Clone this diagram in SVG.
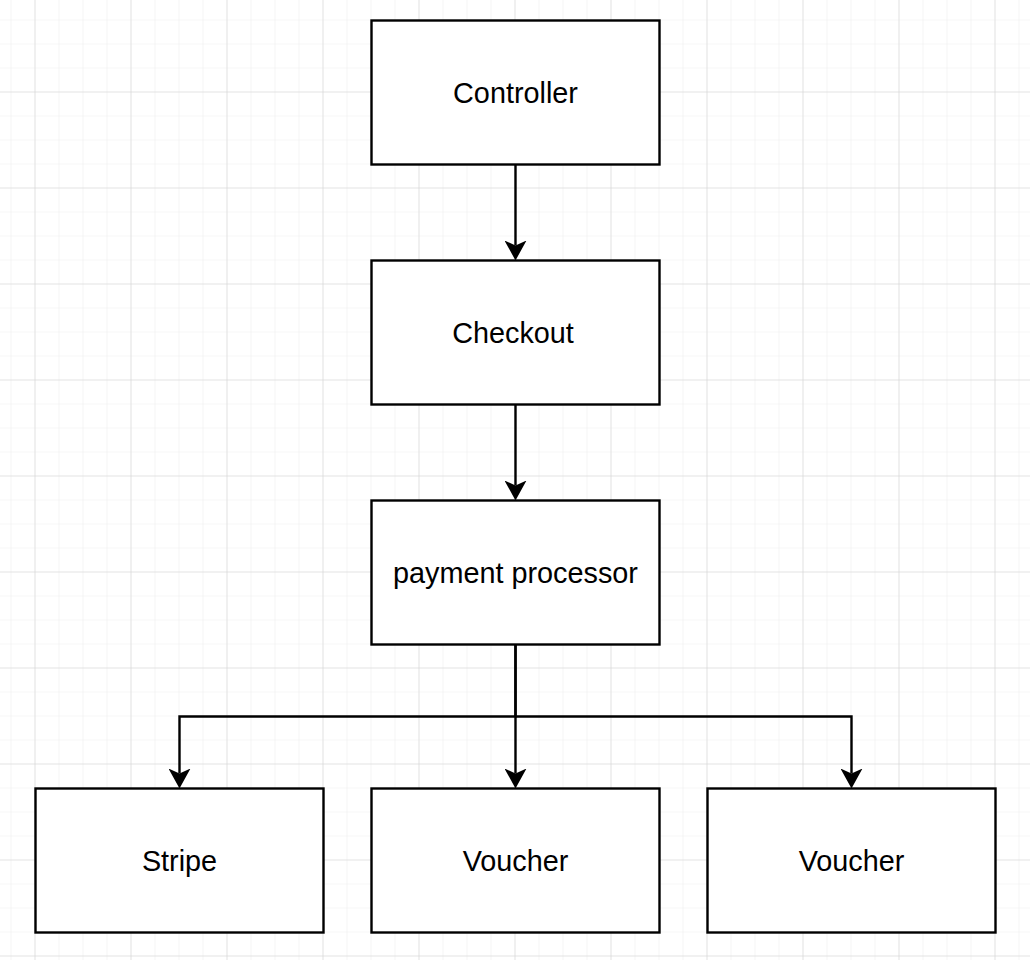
<svg xmlns="http://www.w3.org/2000/svg" width="1030" height="960" viewBox="0 0 1030 960">
<defs>
<pattern id="minor" x="10.5" y="19.5" width="24" height="24" patternUnits="userSpaceOnUse">
<path d="M0,0 V24 M0,0 H24" fill="none" stroke="#eeeeee" stroke-width="1.2"/>
</pattern>
<pattern id="major" x="34.5" y="-4.5" width="96" height="96" patternUnits="userSpaceOnUse">
<path d="M0,0 V96 M0,0 H96" fill="none" stroke="#d2d2d2" stroke-width="1"/>
</pattern>
<marker id="arrow" viewBox="0 0 20 22" refX="5" refY="11" markerWidth="20" markerHeight="22" markerUnits="userSpaceOnUse" orient="auto">
<path d="M0,0 L20,11 L0,22 L5,11 Z" fill="#000"/>
</marker>
<style>
.box{fill:#fff;stroke:#000;stroke-width:2.4}
.lbl{font-family:"Liberation Sans",Arial,Helvetica,sans-serif;font-size:28.8px;fill:#000;text-anchor:middle}
.edge{fill:none;stroke:#000;stroke-width:2.4}
</style>
</defs>
<rect width="1030" height="960" fill="#fff"/>
<rect width="1030" height="960" fill="url(#minor)"/>
<rect width="1030" height="960" fill="url(#major)"/>
<g id="connectors">
<path class="edge" d="M515.5,164.5 V245.5" marker-end="url(#arrow)"/>
<path class="edge" d="M515.5,404.5 V485.5" marker-end="url(#arrow)"/>
<path class="edge" d="M515.5,644.5 V716.5 H179.5 V773.5" marker-end="url(#arrow)"/>
<path class="edge" d="M515.5,644.5 V773.5" marker-end="url(#arrow)"/>
<path class="edge" d="M515.5,716.5 H851.5 V773.5" marker-end="url(#arrow)"/>
</g>
<g id="controller">
<rect class="box" x="371.5" y="20.5" width="288" height="144"/>
<text class="lbl" x="515.5" y="102.5">Controller</text>
</g>
<g id="checkout">
<rect class="box" x="371.5" y="260.5" width="288" height="144"/>
<text class="lbl" x="513" y="342.5">Checkout</text>
</g>
<g id="payment-processor">
<rect class="box" x="371.5" y="500.5" width="288" height="144"/>
<text class="lbl" x="515.5" y="582.5">payment processor</text>
</g>
<g id="stripe">
<rect class="box" x="35.5" y="788.5" width="288" height="144"/>
<text class="lbl" x="179.5" y="870.5">Stripe</text>
</g>
<g id="voucher1">
<rect class="box" x="371.5" y="788.5" width="288" height="144"/>
<text class="lbl" x="515.5" y="870.5">Voucher</text>
</g>
<g id="voucher2">
<rect class="box" x="707.5" y="788.5" width="288" height="144"/>
<text class="lbl" x="851.5" y="870.5">Voucher</text>
</g>
</svg>
